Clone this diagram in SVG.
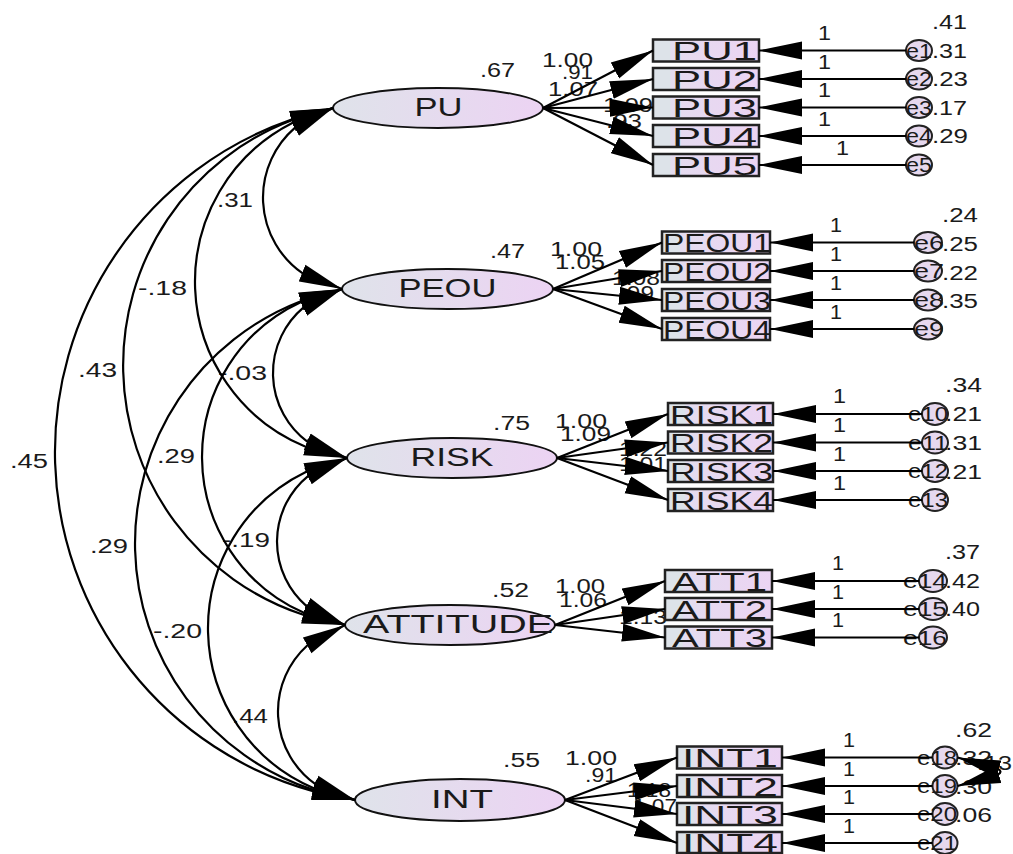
<svg xmlns="http://www.w3.org/2000/svg" width="1013" height="854" viewBox="0 0 1013 854">
<defs>
<linearGradient id="gE" x1="0" y1="0" x2="1" y2="0"><stop offset="0" stop-color="#dfe3ea"/><stop offset="1" stop-color="#ecd3f3"/></linearGradient>
<linearGradient id="gB" x1="0" y1="0" x2="1" y2="0"><stop offset="0" stop-color="#dde3e9"/><stop offset="0.16" stop-color="#dde3e9"/><stop offset="0.17" stop-color="#e4dcef"/><stop offset="1" stop-color="#ecd4f3"/></linearGradient>
<marker id="ah" markerUnits="userSpaceOnUse" markerWidth="44" markerHeight="20" viewBox="0 0 44 20" refX="43" refY="10" orient="auto-start-reverse"><path d="M0,1 L43,10 L0,19 z" fill="#000"/></marker>
<style>
.t{font-family:"Liberation Sans",Arial,sans-serif;fill:#1a1a1a}
.n{font-size:20px}
.b{font-size:26px}
.l{font-size:25px}
.ell{fill:url(#gE);stroke:#111;stroke-width:2}
.box{fill:url(#gB);stroke:#222;stroke-width:2.5}
.err{fill:#e6d8ee;stroke:#222;stroke-width:2}
.c{fill:none;stroke:#000;stroke-width:2.2;marker-end:url(#ah)}
.cv{fill:none;stroke:#000;stroke-width:2.2;marker-start:url(#ah);marker-end:url(#ah)}
</style>
</defs>
<rect width="1013" height="854" fill="#fff"/>

<g id="coef-labels" class="t n">
<text x="217" y="207" textLength="36" lengthAdjust="spacingAndGlyphs">.31</text>
<text x="138" y="295" textLength="49" lengthAdjust="spacingAndGlyphs">-.18</text>
<text x="78" y="377" textLength="39" lengthAdjust="spacingAndGlyphs">.43</text>
<text x="10" y="468" textLength="38" lengthAdjust="spacingAndGlyphs">.45</text>
<text x="218" y="380" textLength="49" lengthAdjust="spacingAndGlyphs">-.03</text>
<text x="157" y="463" textLength="38" lengthAdjust="spacingAndGlyphs">.29</text>
<text x="90" y="553" textLength="38" lengthAdjust="spacingAndGlyphs">.29</text>
<text x="222" y="547" textLength="48" lengthAdjust="spacingAndGlyphs">-.19</text>
<text x="153" y="638" textLength="49" lengthAdjust="spacingAndGlyphs">-.20</text>
<text x="232" y="723" textLength="36" lengthAdjust="spacingAndGlyphs">.44</text>

<text x="480" y="77" textLength="35" lengthAdjust="spacingAndGlyphs">.67</text>
<text x="542" y="67" textLength="51" lengthAdjust="spacingAndGlyphs">1.00</text>
<text x="562" y="79" textLength="31" lengthAdjust="spacingAndGlyphs">.91</text>
<text x="548" y="96" textLength="50" lengthAdjust="spacingAndGlyphs">1.07</text>
<text x="603" y="112" textLength="50" lengthAdjust="spacingAndGlyphs">1.09</text>
<text x="606" y="128" textLength="36" lengthAdjust="spacingAndGlyphs">.93</text>

<text x="490" y="258" textLength="35" lengthAdjust="spacingAndGlyphs">.47</text>
<text x="550" y="256" textLength="52" lengthAdjust="spacingAndGlyphs">1.00</text>
<text x="555" y="269" textLength="50" lengthAdjust="spacingAndGlyphs">1.05</text>
<text x="612" y="285" textLength="48" lengthAdjust="spacingAndGlyphs">1.08</text>
<text x="620" y="300" textLength="34" lengthAdjust="spacingAndGlyphs">.99</text>

<text x="493" y="430" textLength="37" lengthAdjust="spacingAndGlyphs">.75</text>
<text x="555" y="428" textLength="52" lengthAdjust="spacingAndGlyphs">1.00</text>
<text x="560" y="441" textLength="51" lengthAdjust="spacingAndGlyphs">1.09</text>
<text x="619" y="456" textLength="48" lengthAdjust="spacingAndGlyphs">1.22</text>
<text x="619" y="471" textLength="48" lengthAdjust="spacingAndGlyphs">1.01</text>

<text x="492" y="597" textLength="37" lengthAdjust="spacingAndGlyphs">.52</text>
<text x="555" y="593" textLength="50" lengthAdjust="spacingAndGlyphs">1.00</text>
<text x="559" y="607" textLength="48" lengthAdjust="spacingAndGlyphs">1.06</text>
<text x="619" y="624" textLength="48" lengthAdjust="spacingAndGlyphs">1.13</text>

<text x="503" y="767" textLength="37" lengthAdjust="spacingAndGlyphs">.55</text>
<text x="565" y="765" textLength="52" lengthAdjust="spacingAndGlyphs">1.00</text>
<text x="585" y="782" textLength="32" lengthAdjust="spacingAndGlyphs">.91</text>
<text x="627" y="797" textLength="44" lengthAdjust="spacingAndGlyphs">1.18</text>
<text x="633" y="813" textLength="44" lengthAdjust="spacingAndGlyphs">1.07</text>

<text x="977" y="770" textLength="35" lengthAdjust="spacingAndGlyphs">.13</text>

<text x="818" y="40" textLength="13" lengthAdjust="spacingAndGlyphs">1</text>
<text x="818" y="68.5" textLength="13" lengthAdjust="spacingAndGlyphs">1</text>
<text x="818" y="97" textLength="13" lengthAdjust="spacingAndGlyphs">1</text>
<text x="818" y="125.5" textLength="13" lengthAdjust="spacingAndGlyphs">1</text>
<text x="836" y="155" textLength="13" lengthAdjust="spacingAndGlyphs">1</text>
<text x="830" y="232" textLength="12" lengthAdjust="spacingAndGlyphs">1</text>
<text x="830" y="260.5" textLength="12" lengthAdjust="spacingAndGlyphs">1</text>
<text x="830" y="289.5" textLength="12" lengthAdjust="spacingAndGlyphs">1</text>
<text x="830" y="318.5" textLength="12" lengthAdjust="spacingAndGlyphs">1</text>
<text x="833" y="403" textLength="13" lengthAdjust="spacingAndGlyphs">1</text>
<text x="833" y="432" textLength="13" lengthAdjust="spacingAndGlyphs">1</text>
<text x="833" y="460.5" textLength="13" lengthAdjust="spacingAndGlyphs">1</text>
<text x="833" y="489.5" textLength="13" lengthAdjust="spacingAndGlyphs">1</text>
<text x="832" y="570" textLength="12" lengthAdjust="spacingAndGlyphs">1</text>
<text x="832" y="598.5" textLength="12" lengthAdjust="spacingAndGlyphs">1</text>
<text x="832" y="627" textLength="12" lengthAdjust="spacingAndGlyphs">1</text>
<text x="843" y="747" textLength="12" lengthAdjust="spacingAndGlyphs">1</text>
<text x="843" y="775.5" textLength="12" lengthAdjust="spacingAndGlyphs">1</text>
<text x="843" y="803.5" textLength="12" lengthAdjust="spacingAndGlyphs">1</text>
<text x="843" y="832.5" textLength="12" lengthAdjust="spacingAndGlyphs">1</text>
</g>

<g id="PU"><ellipse class="ell" cx="438" cy="108" rx="105" ry="20"/><text class="t l" x="438.5" y="116" text-anchor="middle" textLength="48" lengthAdjust="spacingAndGlyphs">PU</text></g>
<g id="PEOU"><ellipse class="ell" cx="447.5" cy="289" rx="105.5" ry="20"/><text class="t l" x="447.5" y="297" text-anchor="middle" textLength="98" lengthAdjust="spacingAndGlyphs">PEOU</text></g>
<g id="RISK"><ellipse class="ell" cx="452" cy="458" rx="105" ry="20"/><text class="t l" x="452" y="466" text-anchor="middle" textLength="83" lengthAdjust="spacingAndGlyphs">RISK</text></g>
<g id="ATTITUDE"><ellipse class="ell" cx="450" cy="625" rx="105" ry="20"/><text class="t l" x="458" y="633" text-anchor="middle" textLength="190" lengthAdjust="spacingAndGlyphs">ATTITUDE</text></g>
<g id="INT"><ellipse class="ell" cx="460" cy="800" rx="105" ry="21"/><text class="t l" x="462" y="808" text-anchor="middle" textLength="62" lengthAdjust="spacingAndGlyphs">INT</text></g>

<g id="PU1"><rect class="box" x="653" y="39.5" width="106" height="22"/><text class="t b" x="672" y="60" textLength="85" lengthAdjust="spacingAndGlyphs">PU1</text></g>
<g id="PU2"><rect class="box" x="653" y="68" width="106" height="22"/><text class="t b" x="672" y="88.5" textLength="85" lengthAdjust="spacingAndGlyphs">PU2</text></g>
<g id="PU3"><rect class="box" x="653" y="96.5" width="106" height="22"/><text class="t b" x="672" y="117" textLength="85" lengthAdjust="spacingAndGlyphs">PU3</text></g>
<g id="PU4"><rect class="box" x="653" y="125" width="106" height="22"/><text class="t b" x="672" y="145.5" textLength="85" lengthAdjust="spacingAndGlyphs">PU4</text></g>
<g id="PU5"><rect class="box" x="653" y="154" width="106" height="22"/><text class="t b" x="672" y="174.5" textLength="85" lengthAdjust="spacingAndGlyphs">PU5</text></g>

<g id="PEOU1"><rect class="box" x="662" y="231.5" width="108" height="22"/><text class="t b" x="663" y="252" textLength="108" lengthAdjust="spacingAndGlyphs">PEOU1</text></g>
<g id="PEOU2"><rect class="box" x="662" y="260" width="108" height="22"/><text class="t b" x="663" y="280.5" textLength="108" lengthAdjust="spacingAndGlyphs">PEOU2</text></g>
<g id="PEOU3"><rect class="box" x="662" y="289" width="108" height="22"/><text class="t b" x="663" y="309.5" textLength="108" lengthAdjust="spacingAndGlyphs">PEOU3</text></g>
<g id="PEOU4"><rect class="box" x="662" y="318" width="108" height="22"/><text class="t b" x="663" y="338.5" textLength="108" lengthAdjust="spacingAndGlyphs">PEOU4</text></g>

<g id="RISK1"><rect class="box" x="668" y="403" width="105" height="22"/><text class="t b" x="670" y="423.5" textLength="103" lengthAdjust="spacingAndGlyphs">RISK1</text></g>
<g id="RISK2"><rect class="box" x="668" y="431.5" width="105" height="22"/><text class="t b" x="670" y="452" textLength="103" lengthAdjust="spacingAndGlyphs">RISK2</text></g>
<g id="RISK3"><rect class="box" x="668" y="460" width="105" height="22"/><text class="t b" x="670" y="480.5" textLength="103" lengthAdjust="spacingAndGlyphs">RISK3</text></g>
<g id="RISK4"><rect class="box" x="668" y="489" width="105" height="22"/><text class="t b" x="670" y="509.5" textLength="103" lengthAdjust="spacingAndGlyphs">RISK4</text></g>

<g id="ATT1"><rect class="box" x="665" y="570" width="107" height="22"/><text class="t b" x="672" y="590.5" textLength="95" lengthAdjust="spacingAndGlyphs">ATT1</text></g>
<g id="ATT2"><rect class="box" x="665" y="598" width="107" height="22"/><text class="t b" x="672" y="618.5" textLength="95" lengthAdjust="spacingAndGlyphs">ATT2</text></g>
<g id="ATT3"><rect class="box" x="665" y="626.5" width="107" height="22"/><text class="t b" x="672" y="647" textLength="95" lengthAdjust="spacingAndGlyphs">ATT3</text></g>

<g id="INT1"><rect class="box" x="677" y="746.5" width="105" height="22"/><text class="t b" x="682" y="767" textLength="96" lengthAdjust="spacingAndGlyphs">INT1</text></g>
<g id="INT2"><rect class="box" x="677" y="775" width="105" height="22"/><text class="t b" x="682" y="795.5" textLength="96" lengthAdjust="spacingAndGlyphs">INT2</text></g>
<g id="INT3"><rect class="box" x="677" y="803" width="105" height="22"/><text class="t b" x="682" y="823.5" textLength="96" lengthAdjust="spacingAndGlyphs">INT3</text></g>
<g id="INT4"><rect class="box" x="677" y="832" width="105" height="21"/><text class="t b" x="682" y="852" textLength="96" lengthAdjust="spacingAndGlyphs">INT4</text></g>

<g id="e1"><ellipse class="err" cx="919" cy="50.5" rx="13" ry="10.5"/><text class="t n" x="906" y="57.5" textLength="26" lengthAdjust="spacingAndGlyphs">e1</text><text class="t n" x="932" y="28.5" textLength="35" lengthAdjust="spacingAndGlyphs">.41</text></g>
<g id="e2"><ellipse class="err" cx="919" cy="79" rx="13" ry="10.5"/><text class="t n" x="906" y="86" textLength="26" lengthAdjust="spacingAndGlyphs">e2</text><text class="t n" x="932" y="57.5" textLength="35" lengthAdjust="spacingAndGlyphs">.31</text></g>
<g id="e3"><ellipse class="err" cx="919" cy="107.5" rx="13" ry="10.5"/><text class="t n" x="906" y="114.5" textLength="26" lengthAdjust="spacingAndGlyphs">e3</text><text class="t n" x="932" y="86" textLength="36" lengthAdjust="spacingAndGlyphs">.23</text></g>
<g id="e4"><ellipse class="err" cx="919" cy="136" rx="13" ry="10.5"/><text class="t n" x="906" y="143" textLength="26" lengthAdjust="spacingAndGlyphs">e4</text><text class="t n" x="932" y="114.5" textLength="35" lengthAdjust="spacingAndGlyphs">.17</text></g>
<g id="e5"><ellipse class="err" cx="919" cy="165" rx="13" ry="10.5"/><text class="t n" x="906" y="172" textLength="26" lengthAdjust="spacingAndGlyphs">e5</text><text class="t n" x="932" y="143" textLength="36" lengthAdjust="spacingAndGlyphs">.29</text></g>

<g id="e6"><ellipse class="err" cx="928" cy="242.5" rx="14" ry="10.5"/><text class="t n" x="914" y="249.5" textLength="30" lengthAdjust="spacingAndGlyphs">e6</text><text class="t n" x="942" y="222" textLength="36" lengthAdjust="spacingAndGlyphs">.24</text></g>
<g id="e7"><ellipse class="err" cx="928" cy="271" rx="14" ry="10.5"/><text class="t n" x="914" y="278" textLength="30" lengthAdjust="spacingAndGlyphs">e7</text><text class="t n" x="942" y="250.5" textLength="36" lengthAdjust="spacingAndGlyphs">.25</text></g>
<g id="e8"><ellipse class="err" cx="928" cy="300" rx="14" ry="10.5"/><text class="t n" x="914" y="307" textLength="30" lengthAdjust="spacingAndGlyphs">e8</text><text class="t n" x="942" y="279.5" textLength="36" lengthAdjust="spacingAndGlyphs">.22</text></g>
<g id="e9"><ellipse class="err" cx="928" cy="329" rx="14" ry="10.5"/><text class="t n" x="914" y="336" textLength="30" lengthAdjust="spacingAndGlyphs">e9</text><text class="t n" x="942" y="308" textLength="36" lengthAdjust="spacingAndGlyphs">.35</text></g>

<g id="e10"><ellipse class="err" cx="935" cy="414" rx="13" ry="11"/><text class="t n" x="908" y="421" textLength="40" lengthAdjust="spacingAndGlyphs">e10</text><text class="t n" x="945" y="392" textLength="37" lengthAdjust="spacingAndGlyphs">.34</text></g>
<g id="e11"><ellipse class="err" cx="935" cy="442.5" rx="13" ry="11"/><text class="t n" x="908" y="449.5" textLength="40" lengthAdjust="spacingAndGlyphs">e11</text><text class="t n" x="945" y="421" textLength="37" lengthAdjust="spacingAndGlyphs">.21</text></g>
<g id="e12"><ellipse class="err" cx="935" cy="471" rx="13" ry="11"/><text class="t n" x="908" y="478" textLength="40" lengthAdjust="spacingAndGlyphs">e12</text><text class="t n" x="945" y="449.5" textLength="37" lengthAdjust="spacingAndGlyphs">.31</text></g>
<g id="e13"><ellipse class="err" cx="935" cy="500" rx="13" ry="11"/><text class="t n" x="908" y="507" textLength="40" lengthAdjust="spacingAndGlyphs">e13</text><text class="t n" x="945" y="478.5" textLength="37" lengthAdjust="spacingAndGlyphs">.21</text></g>

<g id="e14"><ellipse class="err" cx="933" cy="581" rx="14" ry="11"/><text class="t n" x="903" y="588" textLength="44" lengthAdjust="spacingAndGlyphs">e14</text><text class="t n" x="945" y="558.5" textLength="35" lengthAdjust="spacingAndGlyphs">.37</text></g>
<g id="e15"><ellipse class="err" cx="933" cy="609" rx="14" ry="11"/><text class="t n" x="903" y="616" textLength="44" lengthAdjust="spacingAndGlyphs">e15</text><text class="t n" x="945" y="587.5" textLength="35" lengthAdjust="spacingAndGlyphs">.42</text></g>
<g id="e16"><ellipse class="err" cx="933" cy="637.5" rx="14" ry="11"/><text class="t n" x="903" y="644.5" textLength="44" lengthAdjust="spacingAndGlyphs">e16</text><text class="t n" x="945" y="616" textLength="35" lengthAdjust="spacingAndGlyphs">.40</text></g>

<g id="e18"><ellipse class="err" cx="945" cy="757.5" rx="12.5" ry="11"/><text class="t n" x="917" y="764.5" textLength="40" lengthAdjust="spacingAndGlyphs">e18</text><text class="t n" x="955" y="737" textLength="37" lengthAdjust="spacingAndGlyphs">.62</text></g>
<g id="e19"><ellipse class="err" cx="945" cy="786" rx="12.5" ry="11"/><text class="t n" x="917" y="793" textLength="40" lengthAdjust="spacingAndGlyphs">e19</text><text class="t n" x="955" y="765" textLength="37" lengthAdjust="spacingAndGlyphs">.32</text></g>
<g id="e20"><ellipse class="err" cx="945" cy="814" rx="12.5" ry="11"/><text class="t n" x="917" y="821" textLength="40" lengthAdjust="spacingAndGlyphs">e20</text><text class="t n" x="955" y="793.5" textLength="37" lengthAdjust="spacingAndGlyphs">.30</text></g>
<g id="e21"><ellipse class="err" cx="945" cy="843" rx="12.5" ry="11"/><text class="t n" x="917" y="850" textLength="40" lengthAdjust="spacingAndGlyphs">e21</text><text class="t n" x="955" y="821.5" textLength="37" lengthAdjust="spacingAndGlyphs">.06</text></g>

<g id="connectors">
<path class="cv" d="M333,108 L295.1,127.6 A92.3,92.3 0 0 0 302.4,273.2 L342,289"/>
<path class="cv" d="M333,108 L292.7,122.7 A178.3,178.3 0 0 0 305.6,446.7 L347,458"/>
<path class="cv" d="M333,108 L291.8,120.1 A262.7,262.7 0 0 0 303.3,614.8 L345,625"/>
<path class="cv" d="M333,108 L291.6,119.6 A351.8,351.8 0 0 0 313,791.1 L355,800"/>
<path class="cv" d="M342,289 L303.6,307.4 A85.7,85.7 0 0 0 307.6,441.9 L347,458"/>
<path class="cv" d="M342,289 L301.1,301.9 A170.5,170.5 0 0 0 303.9,612.8 L345,625"/>
<path class="cv" d="M342,289 L300.8,301.2 A259.7,259.7 0 0 0 313.2,789.9 L355,800"/>
<path class="cv" d="M347,458 L308.3,475.8 A85,85 0 0 0 306.8,606.3 L345,625"/>
<path class="cv" d="M347,458 L306.3,471.7 A173.8,173.8 0 0 0 313.8,788.2 L355,800"/>
<path class="cv" d="M345,625 L307.5,645.2 A89.3,89.3 0 0 0 315.4,784.2 L355,800"/>

<path class="c" d="M543,108 L653,50.5"/>
<path class="c" d="M543,108 L653,79"/>
<path class="c" d="M543,108 L653,107.5"/>
<path class="c" d="M543,108 L653,136"/>
<path class="c" d="M543,108 L653,165"/>
<path class="c" d="M553,289 L662,242.5"/>
<path class="c" d="M553,289 L662,271"/>
<path class="c" d="M553,289 L662,300"/>
<path class="c" d="M553,289 L662,329"/>
<path class="c" d="M557,458 L668,414"/>
<path class="c" d="M557,458 L668,442.5"/>
<path class="c" d="M557,458 L668,471"/>
<path class="c" d="M557,458 L668,500"/>
<path class="c" d="M555,625 L665,581"/>
<path class="c" d="M555,625 L665,609"/>
<path class="c" d="M555,625 L665,637.5"/>
<path class="c" d="M565,800 L677,757.5"/>
<path class="c" d="M565,800 L677,786"/>
<path class="c" d="M565,800 L677,814"/>
<path class="c" d="M565,800 L677,843"/>

<path class="c" d="M906,50.5 L759,50.5"/>
<path class="c" d="M906,79 L759,79"/>
<path class="c" d="M906,107.5 L759,107.5"/>
<path class="c" d="M906,136 L759,136"/>
<path class="c" d="M906,165 L759,165"/>
<path class="c" d="M914,242.5 L770,242.5"/>
<path class="c" d="M914,271 L770,271"/>
<path class="c" d="M914,300 L770,300"/>
<path class="c" d="M914,329 L770,329"/>
<path class="c" d="M922,414 L773,414"/>
<path class="c" d="M922,442.5 L773,442.5"/>
<path class="c" d="M922,471 L773,471"/>
<path class="c" d="M922,500 L773,500"/>
<path class="c" d="M919,581 L772,581"/>
<path class="c" d="M919,609 L772,609"/>
<path class="c" d="M919,637.5 L772,637.5"/>
<path class="c" d="M932.5,757.5 L782,757.5"/>
<path class="c" d="M932.5,786 L782,786"/>
<path class="c" d="M932.5,814 L782,814"/>
<path class="c" d="M932.5,843 L782,843"/>

<path class="cv" d="M957.5,757.5 L998,769 Q1003,771.75 998,774.5 L957.5,786"/>
</g>
</svg>
